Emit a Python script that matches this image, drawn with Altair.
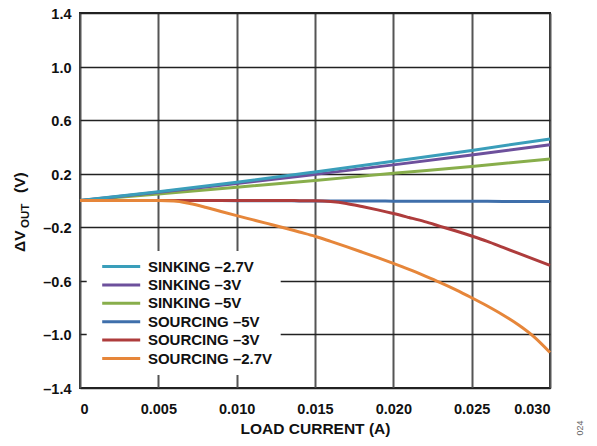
import altair as alt
import pandas as pd

# ---- data ----
series_order = ["SINKING –2.7V", "SINKING –3V", "SINKING –5V",
                "SOURCING –5V", "SOURCING –3V", "SOURCING –2.7V"]
series_colors = ["#3A9EBA", "#6D509C", "#88AE4B", "#3F6FAB", "#AE3C3C", "#E6863A"]

sink_current = [0.000, 0.005, 0.010, 0.015, 0.020, 0.025, 0.030]
sink_27 = [0.0, 0.066, 0.136, 0.213, 0.293, 0.374, 0.460]
sink_3 = [0.0, 0.061, 0.126, 0.195, 0.266, 0.340, 0.417]
sink_5 = [0.0, 0.049, 0.099, 0.150, 0.203, 0.254, 0.310]

src_current = [0.000, 0.001, 0.002, 0.003, 0.004, 0.005, 0.006, 0.007, 0.008, 0.009,
               0.010, 0.011, 0.012, 0.013, 0.014, 0.015, 0.016, 0.017, 0.018, 0.019,
               0.020, 0.021, 0.022, 0.023, 0.024, 0.025, 0.026, 0.027, 0.028, 0.029,
               0.030]
src_5 = [0, 0, 0, 0, 0, 0, 0, 0, 0, 0,
         -0.001, -0.001, -0.002, -0.002, -0.003, -0.003, -0.003, -0.004, -0.004, -0.004,
         -0.005, -0.005, -0.005, -0.006, -0.006, -0.006, -0.006, -0.007, -0.007, -0.007,
         -0.007]
src_3 = [0, 0, 0, 0, 0, 0, 0, 0, 0, 0,
         0, 0, 0, 0, -0.001, -0.002, -0.008, -0.022, -0.045, -0.070,
         -0.097, -0.127, -0.158, -0.193, -0.228, -0.265, -0.305, -0.350, -0.395, -0.440,
         -0.485]
src_27 = [0, 0, 0, 0, 0, 0, -0.003, -0.022, -0.050, -0.082,
          -0.113, -0.143, -0.173, -0.203, -0.235, -0.267, -0.305, -0.344, -0.385, -0.427,
          -0.470, -0.515, -0.563, -0.613, -0.667, -0.726, -0.788, -0.855, -0.930, -1.020,
          -1.135]

x_ticks = [0, 0.005, 0.010, 0.015, 0.020, 0.025, 0.030]
y_ticks = [-1.4, -1.0, -0.6, -0.2, 0.2, 0.6, 1.0, 1.4]

# ---- build long table (draw order: sinking 5, 3, 2.7, then sourcing 5, 3, 2.7) ----
rows = []
for name, xs, ys in [
    ("SINKING –5V", sink_current, sink_5),
    ("SINKING –3V", sink_current, sink_3),
    ("SINKING –2.7V", sink_current, sink_27),
    ("SOURCING –5V", src_current, src_5),
    ("SOURCING –3V", src_current, src_3),
    ("SOURCING –2.7V", src_current, src_27),
]:
    for i, (xv, yv) in enumerate(zip(xs, ys)):
        rows.append({"series": name, "current": xv, "dv": yv, "i": i})
df = pd.DataFrame(rows)

FONT = "Liberation Sans"

lines = alt.Chart(df).mark_line(strokeWidth=3, interpolate="monotone").encode(
    x=alt.X("current:Q",
            scale=alt.Scale(domain=[0, 0.03], nice=False, zero=False),
            axis=alt.Axis(values=x_ticks, title="LOAD CURRENT (A)",
                          labelExpr="datum.value == 0 ? '0' : format(datum.value, '.3f')",
                          grid=True, gridColor="#555555", gridWidth=2,
                          ticks=False, domain=False,
                          labelFont=FONT, labelFontSize=14.5, labelFontWeight="bold",
                          labelColor="#111", labelPadding=14,
                          titleFont=FONT, titleFontSize=15.5, titleFontWeight="bold",
                          titleColor="#111", titlePadding=6)),
    y=alt.Y("dv:Q",
            scale=alt.Scale(domain=[-1.4, 1.4], nice=False, zero=False),
            axis=alt.Axis(values=y_ticks, title=None,
                          labelExpr="datum.value < 0 ? '–' + format(abs(datum.value), '.1f') : format(datum.value, '.1f')",
                          grid=True, gridColor="#222222", gridWidth=1.5,
                          ticks=False, domain=False, labelOffset=1.5,
                          labelFont=FONT, labelFontSize=14.5, labelFontWeight="bold",
                          labelColor="#111", labelPadding=9)),
    color=alt.Color("series:N",
                    scale=alt.Scale(domain=series_order, range=series_colors),
                    legend=alt.Legend(title=None, orient="none", legendX=6.7, legendY=238,
                                      fillColor="white", padding=8,
                                      symbolType="M0,0L7.6,0", symbolSize=100,
                                      symbolStrokeWidth=3,
                                      labelFont=FONT, labelFontSize=15,
                                      labelFontWeight="bold", labelColor="#111",
                                      labelOffset=38.2, rowPadding=2.4)),
    order="i:Q",
)

one = pd.DataFrame({"k": [0]})
t_dv = alt.Chart(one).mark_text(angle=270, align="left", baseline="alphabetic",
                                font=FONT, fontSize=15.5, fontWeight="bold",
                                color="#111").encode(
    x=alt.value(-55), y=alt.value(239), text=alt.value("ΔV"))
t_out = alt.Chart(one).mark_text(angle=270, align="left", baseline="alphabetic",
                                 font=FONT, fontSize=11.5, fontWeight="bold",
                                 color="#111").encode(
    x=alt.value(-51), y=alt.value(215), text=alt.value("OUT"))
t_v = alt.Chart(one).mark_text(angle=270, align="left", baseline="alphabetic",
                               font=FONT, fontSize=15.5, fontWeight="bold",
                               color="#111").encode(
    x=alt.value(-55), y=alt.value(180), text=alt.value("(V)"))
t_id = alt.Chart(one).mark_text(angle=270, align="center", baseline="middle",
                                font=FONT, fontSize=9, color="#666").encode(
    x=alt.value(500), y=alt.value(415), text=alt.value("024"))

chart = alt.layer(lines, t_dv, t_out, t_v, t_id).properties(
    width=470, height=375,
    autosize=alt.AutoSizeParams(type="none"),
    padding={"left": 72, "top": 5, "right": 39, "bottom": 50},
).configure_view(stroke="#222222", strokeWidth=2)

chart.save("out.html", embed_options={"renderer": "svg", "actions": False})
